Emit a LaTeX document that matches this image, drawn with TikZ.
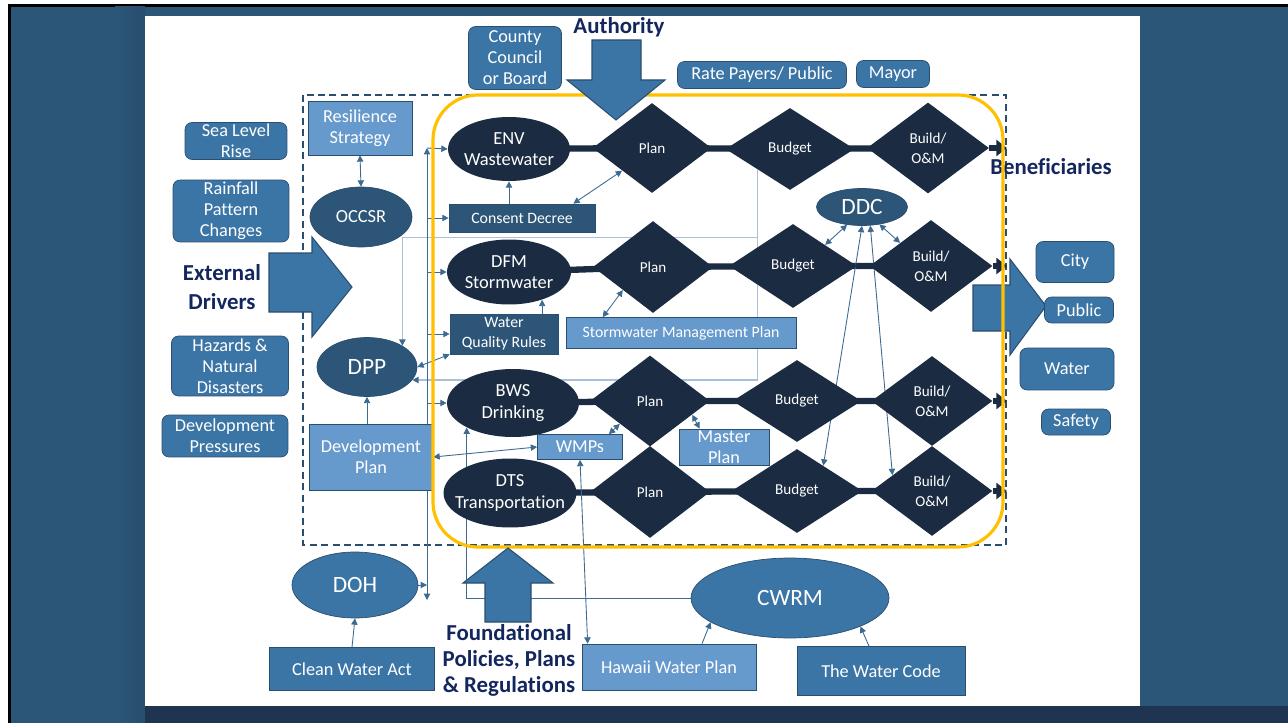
\documentclass[tikz,border=0pt]{standalone}
\usepackage{fontspec}
\setmainfont{Carlito}[Ligatures=NoCommon]
\usepackage{xcolor}
\usepackage{tikz}
\usetikzlibrary{shapes.geometric,arrows.meta,calc,backgrounds}

\definecolor{slideblue}{HTML}{2C5678}
\definecolor{slidedark}{HTML}{1E3450}
\definecolor{navy}{HTML}{1A2B42}
\definecolor{darkblue}{HTML}{2D5578}
\definecolor{midblue}{HTML}{3B75A6}
\definecolor{lightblue}{HTML}{6699CC}
\definecolor{edgeblue}{HTML}{2A4E70}
\definecolor{titleblue}{HTML}{13275E}
\definecolor{linkblue}{HTML}{3D6A91}
\definecolor{paleblue}{HTML}{A8C0D8}
\definecolor{gold}{HTML}{FFC000}

\tikzstyle{driver} = [rectangle, rounded corners=4pt, draw=edgeblue, fill=midblue, text=white, align=center, inner sep=0pt, font=\fontsize{10.4}{12}\selectfont]
\tikzstyle{doc} = [rectangle, draw=edgeblue, fill=midblue, text=white, align=center, inner sep=0pt, font=\fontsize{10.4}{12}\selectfont]
\tikzstyle{lightdoc} = [doc, fill=lightblue]
\tikzstyle{darkdoc} = [doc, fill=darkblue, font=\fontsize{9}{11.5}\selectfont]
\tikzstyle{agency} = [ellipse, draw=edgeblue, fill=darkblue, text=white, align=center, inner sep=0pt, font=\fontsize{13.3}{15}\selectfont]
\tikzstyle{outer} = [agency, fill=midblue]
\tikzstyle{dept} = [ellipse, fill=navy, text=white, align=center, inner sep=0pt, inner xsep=-0.8cm, font=\fontsize{10.5}{12.2}\selectfont]
\tikzstyle{stage} = [diamond, fill=navy, text=white, align=center, inner sep=0pt, font=\fontsize{8.6}{11.3}\selectfont]
\tikzstyle{heading} = [text=titleblue, align=center, font=\bfseries\fontsize{13}{16.5}\selectfont]
\tikzstyle{link} = [draw=linkblue, line width=0.5pt, >={Triangle[length=3.6pt,width=3.6pt]}]
\tikzstyle{pale} = [draw=paleblue, line width=0.9pt, >={Triangle[length=3.6pt,width=3.6pt,color=linkblue]}]
\tikzstyle{bar} = [draw=navy, line width=3.6pt]
\tikzstyle{endarrow} = [bar, -{Triangle[length=6pt,width=9pt]}]
\tikzstyle{bigarrow} = [fill=midblue, draw=edgeblue, line width=0.6pt]

\begin{document}
\begin{tikzpicture}[x=0.02cm, y=-0.02cm]
\useasboundingbox (0,0) rectangle (1288,723);

% slide
\begin{scope}[on background layer]
\fill[white] (0,0) rectangle (1288,723);
\fill[black] (8,4) rectangle (1288,723);
\fill[slideblue] (11,7) rectangle (1288,723);
\shade[left color=slideblue, right color=slideblue!75!slidedark] (115,7) rectangle (145,723);
\fill[slidedark] (145,706) rectangle (1288,723);
\fill[white] (145,16) rectangle (1140,706);
\draw[edgeblue, line width=1.1pt, dash pattern=on 4pt off 2.5pt] (303,95) rectangle (1006,545);
\end{scope}

% top
\node[heading] (authority) at (619,27) {Authority};
\node[driver, minimum width=1.86cm, minimum height=1.26cm] (council) at (515,58) {County\\Council\\or Board};
\node[driver, minimum width=3.38cm, minimum height=0.54cm] (ratepayers) at (762,75) {Rate Payers/ Public};
\node[driver, minimum width=1.46cm, minimum height=0.54cm] (mayor) at (893,74) {Mayor};

% external drivers
\node[driver, minimum width=2.04cm, minimum height=0.74cm] (sealevel) at (236,141) {Sea Level\\Rise};
\node[driver, minimum width=2.32cm, minimum height=1.24cm] (rainfall) at (231,211) {Rainfall\\Pattern\\Changes};
\node[heading] (external) at (222,287) {External\\Drivers};
\node[driver, minimum width=2.34cm, minimum height=1.20cm] (hazards) at (230,366) {Hazards \&\\Natural\\Disasters};
\node[driver, minimum width=2.52cm, minimum height=0.84cm] (devpressure) at (225,436) {Development\\Pressures};

% city side
\node[lightdoc, minimum width=2.08cm, minimum height=1.08cm] (resilience) at (360,128) {Resilience\\Strategy};
\node[agency, font=\fontsize{10.5}{12}\selectfont, minimum width=2.04cm, minimum height=1.2cm] (occsr) at (361,217) {OCCSR};
\node[agency, minimum width=2.0cm, minimum height=1.18cm] (dpp) at (367,367) {DPP};
\node[lightdoc, minimum width=2.48cm, minimum height=1.32cm] (devplan) at (371,457) {Development\\Plan};

% departments
\node[dept, minimum width=2.44cm, minimum height=1.28cm] (env) at (509,149) {ENV\\Wastewater};
\node[darkdoc, minimum width=2.92cm, minimum height=0.56cm] (consent) at (522,218) {Consent Decree};
\node[dept, minimum width=2.48cm, minimum height=1.30cm] (dfm) at (509,272) {DFM\\Stormwater};
\node[darkdoc, minimum width=2.16cm, minimum height=0.80cm] (wqr) at (504,334) {Water\\Quality Rules};
\node[lightdoc, font=\fontsize{9}{11}\selectfont, minimum width=4.60cm, minimum height=0.62cm] (swmp) at (681,333) {Stormwater Management Plan};
\node[dept, minimum width=2.64cm, minimum height=1.36cm] (bws) at (513,403) {BWS\\Drinking};
\node[lightdoc, minimum width=1.70cm, minimum height=0.50cm] (wmps) at (580,447) {WMPs};
\node[lightdoc, minimum width=1.80cm, minimum height=0.72cm] (masterplan) at (724,447) {Master\\Plan};
\node[dept, minimum width=2.66cm, minimum height=1.38cm] (dts) at (510,493) {DTS\\Transportation};
\node[agency, minimum width=1.82cm, minimum height=0.74cm] (ddc) at (862,207) {DDC};

% stages
\node[stage, minimum width=2.38cm, minimum height=1.80cm] (plan1) at (652,148) {Plan};
\node[stage, minimum width=2.58cm, minimum height=1.64cm] (budget1) at (790,149) {Budget};
\node[stage, minimum width=2.44cm, minimum height=1.82cm] (build1) at (928,148) {Build/\\O\&M};
\node[stage, minimum width=2.40cm, minimum height=1.84cm] (plan2) at (653,267) {Plan};
\node[stage, minimum width=2.56cm, minimum height=1.68cm] (budget2) at (793,266) {Budget};
\node[stage, minimum width=2.46cm, minimum height=1.84cm] (build2) at (931,266) {Build/\\O\&M};
\node[stage, minimum width=2.40cm, minimum height=1.82cm] (plan3) at (650,401) {Plan};
\node[stage, minimum width=2.58cm, minimum height=1.64cm] (budget3) at (797,401) {Budget};
\node[stage, minimum width=2.42cm, minimum height=1.80cm] (build3) at (932,401) {Build/\\O\&M};
\node[stage, minimum width=2.40cm, minimum height=1.84cm] (plan4) at (650,492) {Plan};
\node[stage, minimum width=2.62cm, minimum height=1.68cm] (budget4) at (797,491) {Budget};
\node[stage, minimum width=2.42cm, minimum height=1.80cm] (build4) at (932,491) {Build/\\O\&M};

\coordinate (end1) at (1007,148);
\coordinate (end2) at (1007,266);
\coordinate (end3) at (1007,401);
\coordinate (end4) at (1007,491);

% state level
\node[outer, minimum width=2.52cm, minimum height=1.32cm] (doh) at (355,585) {DOH};
\node[doc, minimum width=3.30cm, minimum height=0.86cm] (cleanwater) at (352,669) {Clean Water Act};
\node[heading, font=\bfseries\fontsize{13}{14.8}\selectfont] (foundational) at (509,660) {Foundational\\Policies, Plans\\\& Regulations};
\node[outer, minimum width=3.96cm, minimum height=1.60cm] (cwrm) at (790,598) {CWRM};
\node[lightdoc, minimum width=3.48cm, minimum height=0.92cm] (hawaii) at (669,667) {Hawaii Water Plan};
\node[doc, minimum width=3.36cm, minimum height=0.98cm] (watercode) at (881,671) {The Water Code};

% beneficiaries
\node[heading] (beneficiaries) at (1051,167) {Beneficiaries};
\filldraw[bigarrow] (973,285) -- (1010,285) -- (1010,259) -- (1046,306) -- (1010,355) -- (1010,331) -- (973,331) -- cycle;
\node[driver, minimum width=1.56cm, minimum height=0.82cm] (city) at (1075,262) {City};
\node[driver, minimum width=1.38cm, minimum height=0.52cm] (public) at (1079,310) {Public};
\node[driver, minimum width=1.88cm, minimum height=0.84cm] (water) at (1067,369) {Water};
\node[driver, minimum width=1.38cm, minimum height=0.52cm] (safety) at (1076,422) {Safety};

% connectors
\begin{scope}[on background layer]
\draw[bar] (env.center) -- (plan1.center) -- (budget1.center) -- (build1.center);
\draw[bar] (dfm.center) -- (plan2.center) -- (budget2.center) -- (build2.center);
\draw[bar] (bws.center) -- (plan3.center) -- (budget3.center) -- (build3.center);
\draw[bar] (dts.center) -- (plan4.center) -- (budget4.center) -- (build4.center);

\draw[pale,->] (budget1.south west) |- (dpp.-16);
\draw[pale,->] ($(budget1.south west)+(0,68)$) -| (dpp.31);

\coordinate (bustop) at (427,148);
\coordinate (busbottom) at (427,600);
\draw[link,<->] (busbottom) -- (bustop);
\draw[link,->] (bustop) -- (env.west);
\draw[link,->] (bustop |- consent.west) -- (consent.west);
\draw[link,->] (bustop |- dfm.west) -- (dfm.west);
\draw[link,->] (bustop |- wqr.west) -- (wqr.west);
\draw[link,->] (bustop |- bws.west) -- (bws.west);
\draw[link,->] (doh.east) -- (doh.east -| bustop);

\draw[link,<->] (resilience.south) -- (occsr.north);
\draw[link,->] (consent.north -| env.south) -- (env.south);
\draw[link,<->] ($(consent.north east)+(-22,0)$) -- (plan1.south west);
\draw[link,->] (wqr.north -| dfm.-40) -- (dfm.-40);
\draw[link,<->] ($(swmp.north west)+(37,0)$) -- (plan2.south west);
\draw[link,<->] (dpp.east) -- (wqr.south west);
\draw[link,->] (devplan.north -| dpp.south) -- (dpp.south);
\draw[link,<->] (devplan.east) -- (wmps.west);
\draw[link,<->] ($(wmps.north east)+(-14,0)$) -- (plan3.south west);
\draw[link,<->] ($(masterplan.north west)+(21,0)$) -- ($(plan3.east)!0.3!(plan3.south)$);
\draw[link,<->] (wmps.south) -- ($(hawaii.north west)+(6,0)$);
\draw[link,->] (cwrm.west) -| (bws.-152);

\draw[link,<->] (ddc.-130) -- (budget2.north east);
\draw[link,<->] (ddc.-45) -- (build2.north west);
\draw[link,<->] (ddc.south) -- ($(budget4.north)!0.4!(budget4.east)$);
\draw[link,<->] (ddc.-66) -- ($(build4.north)!0.65!(build4.west)$);

\draw[link,->] (cleanwater.north) -- (doh.south);
\draw[link,->] ($(hawaii.north)+(33,0)$) -- (cwrm.-163);
\draw[link,->] ($(watercode.north)+(-12,0)$) -- (cwrm.-22);
\end{scope}

\draw[endarrow] (build1.east) -- (end1);
\draw[endarrow] (build2.east) -- (end2);
\draw[endarrow] (build3.east) -- (end3);
\draw[endarrow] (build4.east) -- (end4);

% city frame and big arrows
\draw[gold, line width=1.8pt, rounded corners=0.9cm] (433,95) rectangle (1003,547);
\filldraw[bigarrow] (592,40) -- (641,40) -- (641,80) -- (665,80) -- (616,120) -- (567,80) -- (592,80) -- cycle;
\filldraw[bigarrow] (269,253) -- (312,253) -- (312,237) -- (352,287) -- (312,337) -- (312,312) -- (269,312) -- cycle;
\filldraw[bigarrow] (485,622) -- (485,583) -- (463,583) -- (508,548) -- (553,583) -- (531,583) -- (531,622) -- cycle;

\end{tikzpicture}
\end{document}
